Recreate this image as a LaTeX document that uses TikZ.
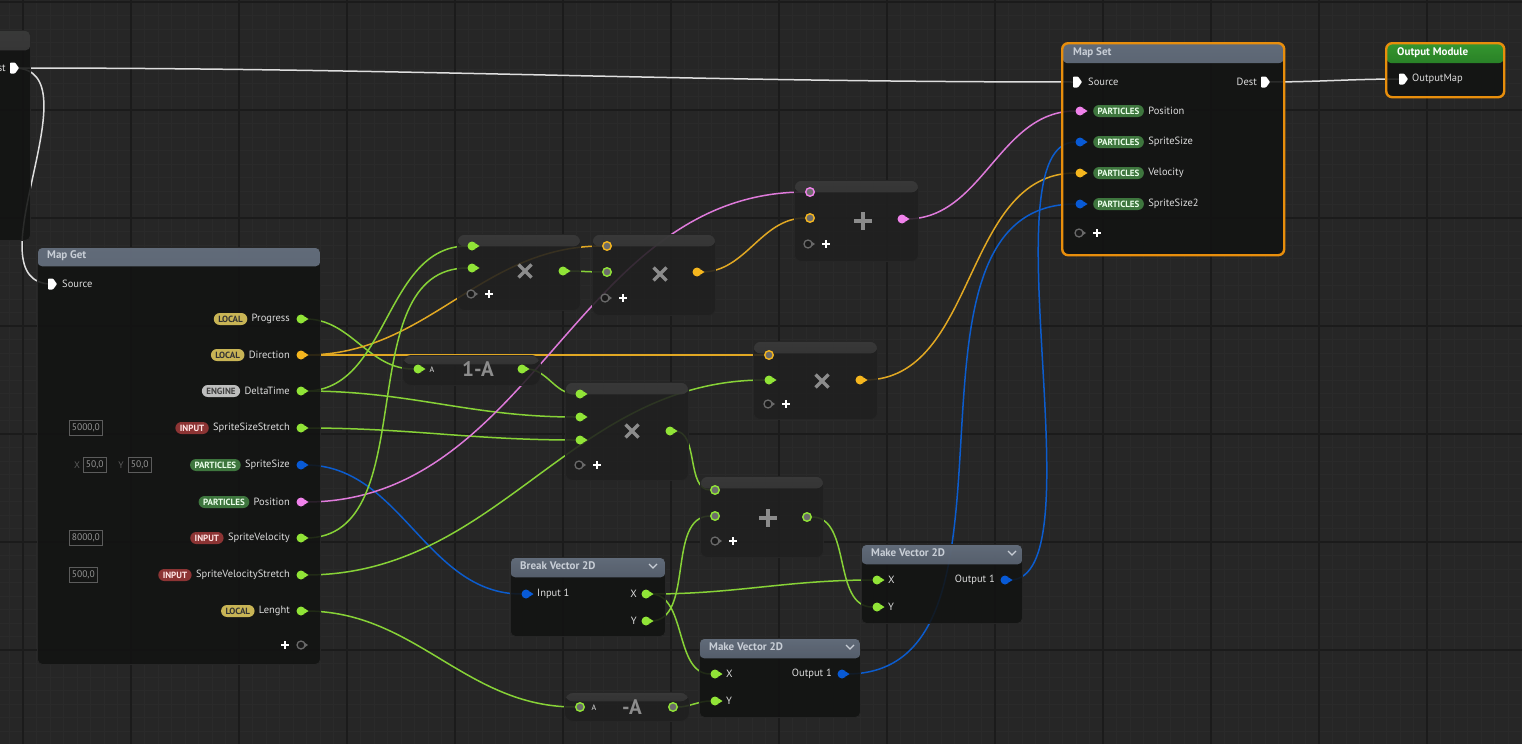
\documentclass[tikz,border=0pt]{standalone}
\usepackage{fontspec}
\setmainfont{PT Sans}
\usetikzlibrary{positioning}

\definecolor{bggrey}{RGB}{38,38,38}
\definecolor{gridminor}{RGB}{42,42,42}
\definecolor{gridmajor}{RGB}{27,27,27}
\definecolor{opfill}{RGB}{32,32,32}
\definecolor{opband}{RGB}{60,60,60}
\definecolor{opmid}{RGB}{38,38,38}
\definecolor{mapfill}{RGB}{18,19,18}
\definecolor{hdtop}{RGB}{108,119,135}
\definecolor{hdbot}{RGB}{52,60,74}
\definecolor{prevtop}{RGB}{62,62,62}
\definecolor{prevbot}{RGB}{30,30,30}
\definecolor{outtop}{RGB}{58,168,52}
\definecolor{outbot}{RGB}{22,105,24}
\definecolor{selorange}{RGB}{232,142,12}
\definecolor{pgreen}{RGB}{145,228,55}
\definecolor{porange}{RGB}{245,182,30}
\definecolor{ppink}{RGB}{240,130,235}
\definecolor{pblue}{RGB}{8,90,214}
\definecolor{wgreen}{RGB}{135,210,55}
\definecolor{worange}{RGB}{225,168,35}
\definecolor{wpink}{RGB}{222,122,218}
\definecolor{wblue}{RGB}{12,92,205}
\definecolor{wwhite}{RGB}{222,222,222}
\definecolor{pingrey}{RGB}{108,108,108}
\definecolor{addgrey}{RGB}{105,105,105}
\definecolor{lbltext}{RGB}{220,220,220}
\definecolor{hdtext}{RGB}{200,206,214}
\definecolor{symgrey}{RGB}{140,140,140}
\definecolor{valgrey}{RGB}{92,92,92}
\definecolor{valtext}{RGB}{150,150,150}
\definecolor{taglocal}{RGB}{200,180,85}
\definecolor{tagengine}{RGB}{190,190,190}
\definecolor{taginput}{RGB}{140,52,52}
\definecolor{tagpart}{RGB}{62,118,62}

\pgfdeclarelayer{bg}
\pgfdeclarelayer{wires}
\pgfsetlayers{bg,wires,main}

\tikzset{
  hdbody/.style n args={3}{draw=black!85, line width=.8pt, rounded corners=5pt, fill=mapfill, fill opacity=.88, inner sep=0pt, anchor=north west,
    path picture={\shade[top color=#1, bottom color=#2] (path picture bounding box.north west) rectangle ([yshift=-#3]path picture bounding box.north east);}},
  opbody/.style={hdbody={opband}{opmid}{#1}, fill=opfill, rounded corners=7pt},
  opbody/.default=12pt,
  dpin/.style={circle, fill=#1, inner sep=0pt, minimum size=9pt},
  hpin/.style={circle, fill=pingrey, draw=#1, line width=1.4pt, inner sep=0pt, minimum size=8.5pt},
  apin/.style={circle, fill=black!90, draw=addgrey, line width=1.3pt, inner sep=0pt, minimum size=8pt},
  wire/.style={line width=1.5pt, draw=#1},
  ue/.style={to path={.. controls +(#1,0) and +(-#1,0) .. (\tikztotarget)}},
  lbl/.style={text=lbltext, font=\fontsize{10.5}{11}\selectfont, inner sep=0pt},
  hdlbl/.style={text=hdtext, font=\fontsize{11}{12}\selectfont\bfseries, inner sep=0pt, anchor=west},
  tagpill/.style={rounded corners=6pt, font=\fontsize{9}{10}\selectfont\bfseries, inner xsep=4.5pt, inner ysep=0pt, minimum height=12pt},
  tlocal/.style={tagpill, fill=taglocal, text=black!80},
  tengine/.style={tagpill, fill=tagengine, text=black!75},
  tinput/.style={tagpill, fill=taginput, text=white!90!red},
  tparticles/.style={tagpill, fill=tagpart, text=white!92!green},
  valbox/.style={draw=valgrey, line width=.8pt, text=valtext, font=\fontsize{9.5}{10}\selectfont, inner xsep=2.5pt, inner ysep=0pt, minimum height=15pt, anchor=west},
  opsym/.style={symgrey, line width=3.4pt},
  bigtext/.style={text=symgrey, font=\fontsize{21}{21}\selectfont\bfseries, inner sep=0pt},
  plusmark/.style={white, line width=1.8pt}
}

% data pin: name, colour, x, y
\newcommand\dpin[4]{%
  \fill[#2] (#3+3.5,#4-2.6) -- (#3+7.5,#4) -- (#3+3.5,#4+2.6) -- cycle;
  \node[dpin=#2] (#1) at (#3,#4) {};}
% hollow pin: name, colour, x, y
\newcommand\hpin[4]{\node[hpin=#2] (#1) at (#3,#4) {};}
% add pin with its plus: name, x, y
\newcommand\addpin[3]{%
  \fill[addgrey] (#2+3.5,#3-2.4) -- (#2+7,#3) -- (#2+3.5,#3+2.4) -- cycle;
  \node[apin] (#1) at (#2,#3) {};
  \draw[plusmark] (#2+18,#3) ++(-4,0) -- ++(8,0) ++(-4,-4) -- ++(0,8);}
% exec pin: name, x, y
\newcommand\epin[3]{%
  \coordinate (#1) at (#2,#3);
  \fill[white, rounded corners=.8pt] (#2-4,#3-5.5) -- (#2+1,#3-5.5) -- (#2+5,#3) -- (#2+1,#3+5.5) -- (#2-4,#3+5.5) -- cycle;}
% map get row: name, y, tag style, tag, label, colour
\newcommand\getrow[6]{%
  \dpin{#1}{#6}{301}{#2}
  \node[lbl, anchor=east] (#1-l) at (290,#2) {#5};
  \node[#3, left=4pt of #1-l] (#1-t) {#4};}
% map set row: name, y, label, colour
\newcommand\setrow[4]{%
  \dpin{#1}{#4}{1080}{#2}
  \node[tparticles, anchor=west] (#1-t) at (1093,#2) {PARTICLES};
  \node[lbl, right=4pt of #1-t] (#1-l) {#3};}
\newcommand\opx[2]{\draw[opsym] (#1,#2) ++(-6.5,-6.5) -- ++(13,13) ++(-13,0) -- ++(13,-13);}
\newcommand\opplus[2]{\draw[opsym] (#1,#2) ++(-9,0) -- ++(18,0) ++(-9,-9) -- ++(0,18);}
\newcommand\chevron[2]{\draw[hdtext, line width=1.3pt] (#1-4,#2-2) -- (#1,#2+2) -- (#1+4,#2-2);}

\begin{document}
\begin{tikzpicture}[x=1pt, y=-1pt]
\useasboundingbox (0,0) rectangle (1522,744);

\begin{pgfonlayer}{bg}
  \fill[bggrey] (0,0) rectangle (1522,744);
  \foreach \gx in {9.5,23,...,1522} \draw[gridminor, line width=.6pt] (\gx,0) -- (\gx,744);
  \foreach \gy in {2,15.5,...,744} \draw[gridminor, line width=.6pt] (0,\gy) -- (1522,\gy);
  \foreach \gx in {23,131,...,1522} \draw[gridmajor, line width=1.3pt] (\gx,0) -- (\gx,744);
  \foreach \gy in {2,110,...,744} \draw[gridmajor, line width=1.3pt] (0,\gy) -- (1522,\gy);
\end{pgfonlayer}

% previous node, cut off
\node[hdbody={prevtop}{prevbot}{20pt}, minimum width=50pt, minimum height=210pt] (prev) at (-20,30) {};
\node[lbl, anchor=east] (prev-l) at (6,68) {Dest};
\epin{prev-dest}{14}{68}

% Map Get
\node[hdbody={hdtop}{hdbot}{19pt}, minimum width=283pt, minimum height=417pt] (mapget) at (37,247) {};
\node[hdlbl] (mapget-h) at (47,256) {Map Get};
\epin{mg-src}{52}{284}
\node[lbl, anchor=west] (mg-src-l) at (62,284) {Source};
\getrow{mg-prog}{319}{tlocal}{LOCAL}{Progress}{pgreen}
\getrow{mg-dir}{355}{tlocal}{LOCAL}{Direction}{porange}
\getrow{mg-dt}{391}{tengine}{ENGINE}{DeltaTime}{pgreen}
\getrow{mg-sss}{428}{tinput}{INPUT}{SpriteSizeStretch}{pgreen}
\getrow{mg-ss}{465}{tparticles}{PARTICLES}{SpriteSize}{pblue}
\getrow{mg-pos}{502}{tparticles}{PARTICLES}{Position}{ppink}
\getrow{mg-sv}{538}{tinput}{INPUT}{SpriteVelocity}{pgreen}
\getrow{mg-svs}{575}{tinput}{INPUT}{SpriteVelocityStretch}{pgreen}
\getrow{mg-len}{611}{tlocal}{LOCAL}{Lenght}{pgreen}
\node[valbox] (v-sss) at (69,428) {5000,0};
\node[text=valgrey, font=\fontsize{9.5}{10}\selectfont, inner sep=0pt] (v-xl) at (77,465) {X};
\node[valbox] (v-ssx) at (83,465) {50,0};
\node[text=valgrey, font=\fontsize{9.5}{10}\selectfont, inner sep=0pt] (v-yl) at (121,465) {Y};
\node[valbox] (v-ssy) at (128,465) {50,0};
\node[valbox] (v-sv) at (69,538) {8000,0};
\node[valbox] (v-svs) at (69,575) {500,0};
\fill[addgrey] (304.5,642.6) -- (308,645) -- (304.5,647.4) -- cycle;
\node[apin] (mg-add) at (301,645) {};
\draw[plusmark] (285,645) ++(-4,0) -- ++(8,0) ++(-4,-4) -- ++(0,8);

% multiply 1
\node[opbody, minimum width=123pt, minimum height=76pt] (mul1) at (457,234) {};
\dpin{mul1-a}{pgreen}{472}{246}
\dpin{mul1-b}{pgreen}{472}{268}
\addpin{mul1-add}{471}{294}
\opx{525}{271}
\dpin{mul1-out}{pgreen}{563}{271}

% multiply 2
\node[opbody, minimum width=123pt, minimum height=81pt] (mul2) at (592,234) {};
\hpin{mul2-a}{porange}{607}{246}
\hpin{mul2-b}{pgreen}{607}{272}
\addpin{mul2-add}{605}{298}
\opx{660}{274}
\dpin{mul2-out}{porange}{697}{272}

% add 1
\node[opbody, minimum width=124pt, minimum height=81pt] (add1) at (794,180) {};
\hpin{add1-a}{ppink}{810}{192}
\hpin{add1-b}{porange}{810}{218}
\addpin{add1-add}{808}{244}
\opplus{863}{221}
\dpin{add1-out}{ppink}{902}{219}

% one minus
\node[opbody=9pt, rounded corners=9pt, minimum width=138pt, minimum height=30pt] (oneminus) at (402,355) {};
\dpin{oma-in}{pgreen}{418}{369}
\node[text=lbltext, font=\fontsize{8}{9}\selectfont, inner sep=0pt] (oma-al) at (432,370) {A};
\node[bigtext] (oma-sym) at (478,369) {1-A};
\dpin{oma-out}{pgreen}{522}{369}

% multiply 3
\node[opbody, minimum width=123pt, minimum height=98pt] (mul3) at (565,382) {};
\dpin{mul3-a}{pgreen}{580}{394}
\dpin{mul3-b}{pgreen}{580}{417}
\dpin{mul3-c}{pgreen}{580}{440}
\addpin{mul3-add}{579}{465}
\opx{632}{431}
\dpin{mul3-out}{pgreen}{670}{431}

% multiply 4
\node[opbody, minimum width=124pt, minimum height=78pt] (mul4) at (753,341) {};
\hpin{mul4-a}{porange}{769}{355}
\dpin{mul4-b}{pgreen}{769}{380}
\addpin{mul4-add}{768}{404}
\opx{822}{381}
\dpin{mul4-out}{porange}{860}{380}

% add 2
\node[opbody, minimum width=123pt, minimum height=81pt] (add2) at (700,476) {};
\hpin{add2-a}{pgreen}{715}{490}
\hpin{add2-b}{pgreen}{715}{516}
\addpin{add2-add}{715}{541}
\opplus{768}{518}
\hpin{add2-out}{pgreen}{807}{517}

% negate
\node[opbody=9pt, rounded corners=9pt, minimum width=125pt, minimum height=29pt] (negate) at (564,692) {};
\hpin{neg-in}{pgreen}{580}{707}
\node[text=lbltext, font=\fontsize{8}{9}\selectfont, inner sep=0pt] (neg-al) at (594,708) {A};
\node[bigtext] (neg-sym) at (632,707) {-A};
\hpin{neg-out}{pgreen}{673}{707}

% break vector 2d
\node[hdbody={hdtop}{hdbot}{20pt}, minimum width=155pt, minimum height=79pt] (breakvec) at (510,557) {};
\node[hdlbl] (breakvec-h) at (520,566) {Break Vector 2D};
\chevron{653}{566}
\dpin{bv-in}{pblue}{526}{594}
\node[lbl, anchor=west] (bv-in-l) at (537,594) {Input 1};
\dpin{bv-x}{pgreen}{646}{594}
\node[lbl, anchor=east] (bv-x-l) at (637,594) {X};
\dpin{bv-y}{pgreen}{646}{621}
\node[lbl, anchor=east] (bv-y-l) at (637,621) {Y};

% make vector 2d (upper)
\node[hdbody={hdtop}{hdbot}{20pt}, minimum width=161pt, minimum height=79pt] (makevec1) at (861,544) {};
\node[hdlbl] (makevec1-h) at (871,553) {Make Vector 2D};
\chevron{1012}{553}
\dpin{mv1-x}{pgreen}{877}{580}
\node[lbl, anchor=west] (mv1-x-l) at (888,580) {X};
\dpin{mv1-y}{pgreen}{877}{607}
\node[lbl, anchor=west] (mv1-y-l) at (888,607) {Y};
\dpin{mv1-out}{pblue}{1005}{580}
\node[lbl, anchor=east] (mv1-out-l) at (995,580) {Output 1};

% make vector 2d (lower)
\node[hdbody={hdtop}{hdbot}{20pt}, minimum width=161pt, minimum height=79pt] (makevec2) at (699,638) {};
\node[hdlbl] (makevec2-h) at (709,647) {Make Vector 2D};
\chevron{850}{647}
\dpin{mv2-x}{pgreen}{715}{674}
\node[lbl, anchor=west] (mv2-x-l) at (726,674) {X};
\dpin{mv2-y}{pgreen}{715}{701}
\node[lbl, anchor=west] (mv2-y-l) at (726,701) {Y};
\dpin{mv2-out}{pblue}{842}{674}
\node[lbl, anchor=east] (mv2-out-l) at (832,674) {Output 1};

% Map Set
\node[hdbody={hdtop}{hdbot}{20pt}, draw=selorange, line width=2.4pt, rounded corners=6pt, minimum width=222pt, minimum height=212pt] (mapset) at (1061,42) {};
\node[hdlbl] (mapset-h) at (1073,53) {Map Set};
\epin{ms-src}{1077}{82}
\node[lbl, anchor=west] (ms-src-l) at (1088,82) {Source};
\epin{ms-dest}{1265}{82}
\node[lbl, anchor=east] (ms-dest-l) at (1257,82) {Dest};
\setrow{ms-pos}{111}{Position}{ppink}
\setrow{ms-ss}{142}{SpriteSize}{pblue}
\setrow{ms-vel}{173}{Velocity}{porange}
\setrow{ms-ss2}{204}{SpriteSize2}{pblue}
\addpin{ms-add}{1079}{233}

% Output Module
\node[hdbody={outtop}{outbot}{20pt}, draw=selorange, line width=2.4pt, rounded corners=6pt, minimum width=118pt, minimum height=54pt] (outmod) at (1385,42) {};
\node[hdlbl, text=white!85] (outmod-h) at (1397,53) {Output Module};
\epin{om-map}{1403}{79}
\node[lbl, anchor=west] (om-map-l) at (1412,79) {OutputMap};

% wires
\begin{pgfonlayer}{wires}
\draw[wire=wwhite] (prev-dest) to[ue=400] (ms-src);
\draw[wire=wwhite] (prev-dest) to[ue=85] (mg-src);
\draw[wire=wwhite] (ms-dest) to[ue=55] (om-map);
\draw[wire=wgreen] (mg-prog) to[ue=50] (oma-in);
\draw[wire=worange] (mg-dir) to[ue=127] (mul2-a);
\draw[wire=worange] (mg-dir) -- (mul4-a);
\draw[wire=wgreen] (mg-dt) to[ue=88] (mul1-a);
\draw[wire=wgreen] (mg-dt) to[ue=110] (mul3-b);
\draw[wire=wgreen] (mg-sss) to[ue=110] (mul3-c);
\draw[wire=wblue] (mg-ss) to[ue=100] (bv-in);
\draw[wire=wpink] (mg-pos) to[ue=233] (add1-a);
\draw[wire=wgreen] (mg-sv) to[ue=125] (mul1-b);
\draw[wire=wgreen] (mg-svs) to[ue=198] (mul4-b);
\draw[wire=wgreen] (mg-len) to[ue=115] (neg-in);
\draw[wire=wgreen] (oma-out) to[ue=25] (mul3-a);
\draw[wire=wgreen] (mul1-out) to[ue=17] (mul2-b);
\draw[wire=worange] (mul2-out) to[ue=49] (add1-b);
\draw[wire=wpink] (add1-out) to[ue=81] (ms-pos);
\draw[wire=worange] (mul4-out) to[ue=118] (ms-vel);
\draw[wire=wgreen] (mul3-out) to[ue=29] (add2-a);
\draw[wire=wgreen] (bv-x) to[ue=90] (mv1-x);
\draw[wire=wgreen] (bv-x) to[ue=41] (mv2-x);
\draw[wire=wgreen] (bv-y) to[ue=49] (add2-b);
\draw[wire=wgreen] (add2-out) to[ue=45] (mv1-y);
\draw[wire=wgreen] (neg-out) to[ue=16] (mv2-y);
\draw[wire=wblue] (mv1-out) to[ue=95] (ms-ss);
\draw[wire=wblue] (mv2-out) to[ue=206] (ms-ss2);
\end{pgfonlayer}
\end{tikzpicture}
\end{document}
